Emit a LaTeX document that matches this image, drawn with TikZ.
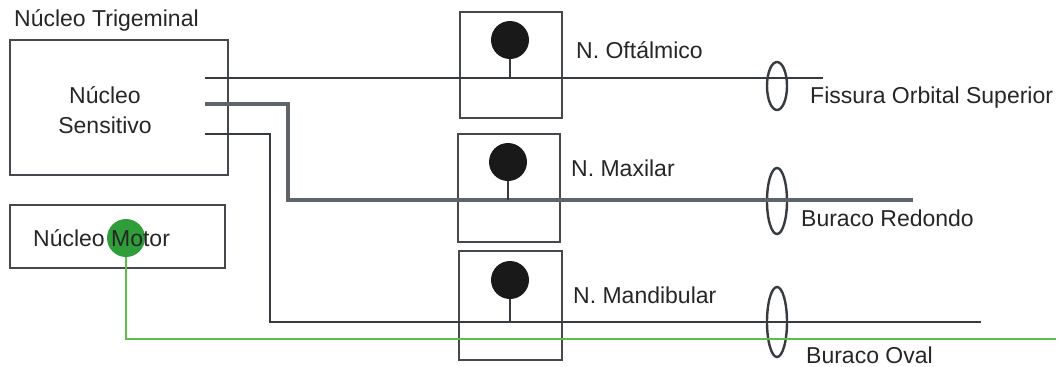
\documentclass[tikz,border=0pt]{standalone}
\usepackage{fontspec}
\setmainfont{Liberation Sans}
\usetikzlibrary{shapes.geometric}
\definecolor{boxc}{HTML}{45494D}
\definecolor{linec}{HTML}{363B40}
\definecolor{linelt}{HTML}{5E6469}
\definecolor{txtc}{HTML}{262626}
\definecolor{gdot}{HTML}{2F9E3A}
\definecolor{gline}{HTML}{5CBF4A}
\begin{document}
\begin{tikzpicture}[x=1pt,y=-1pt,
  box/.style={draw=boxc, line width=2.8pt, rectangle, inner sep=0pt},
  lbl/.style={text=txtc, font=\fontsize{23}{30}\selectfont, inner sep=0pt},
  soma/.style={circle, fill=black!90, minimum size=38pt, inner sep=0pt},
  stem/.style={draw=linec, line width=2pt},
  nerve/.style={draw=linec, line width=2.8pt},
  foramen/.style={ellipse, draw=linec, line width=2.4pt, minimum width=20pt, inner sep=0pt},
  motorline/.style={draw=gline, line width=2.4pt}]
\useasboundingbox (0,0) rectangle (1061,367);

% left boxes
\node[box, minimum width=218pt, minimum height=135pt] (trig) at (119,107.5) {};
\node[lbl, anchor=west] (trigt) at (14,20) {Núcleo Trigeminal};
\node[lbl, align=center] (sens) at (105,110) {Núcleo\\Sensitivo};
\node[box, minimum width=215pt, minimum height=63pt] (motor) at (117.5,236.5) {};

% middle boxes
\node[box, minimum width=102pt, minimum height=106pt] (b1) at (511,65) {};
\node[box, minimum width=102pt, minimum height=108pt] (b2) at (509,188) {};
\node[box, minimum width=103pt, minimum height=109pt] (b3) at (510.5,305.5) {};

% ellipses
\node[foramen, minimum height=48pt] (e1) at (777,86) {};
\node[foramen, minimum height=66pt] (e2) at (777,201) {};
\node[foramen, minimum height=70pt] (e3) at (777,322) {};

% line coordinates
\coordinate (s1) at (205,78);
\coordinate (t1) at (823,78);
\coordinate (s2) at (205,104);
\coordinate (k2a) at (288,104);
\coordinate (k2b) at (288,200);
\coordinate (t2) at (913,200);
\coordinate (s3) at (205,134);
\coordinate (k3a) at (270,134);
\coordinate (k3b) at (270,322);
\coordinate (t3) at (981,322);
\coordinate (gk) at (125,339);
\coordinate (gt) at (1056,339);

% sensory lines
\draw[nerve] (s1) -- (t1);
\draw[nerve, draw=linelt, line width=3.1pt] (s2) -- (k2a) -- (k2b) -- (t2);
\draw[nerve] (s3) -- (k3a) -- (k3b) -- (t3);

% ganglion cells
\node[soma] (d1) at (510,40) {};
\node[soma] (d2) at (508,162) {};
\node[soma] (d3) at (510,280) {};
\draw[stem] (d1.south) -- (d1.south |- t1);
\draw[stem] (d2.south) -- (d2.south |- t2);
\draw[stem] (d3.south) -- (d3.south |- t3);

% motor
\node[circle, fill=gdot, minimum size=38pt, inner sep=0pt] (md) at (126,238) {};
\draw[motorline] (md.south) -- (md.south |- gk) -- (gt);
\node[lbl, anchor=west] (motort) at (33,238) {Núcleo Motor};

% labels
\node[lbl, anchor=west] (l1) at (576,50) {N. Oftálmico};
\node[lbl, anchor=west] (l2) at (571,168) {N. Maxilar};
\node[lbl, anchor=west] (l3) at (573,295) {N. Mandibular};
\node[lbl, anchor=west] (f1) at (810,98) {Fissura Orbital Superior};
\node[lbl, anchor=west] (f2) at (801,218) {Buraco Redondo};
\node[lbl, anchor=west] (f3) at (806,355) {Buraco Oval};
\end{tikzpicture}
\end{document}
